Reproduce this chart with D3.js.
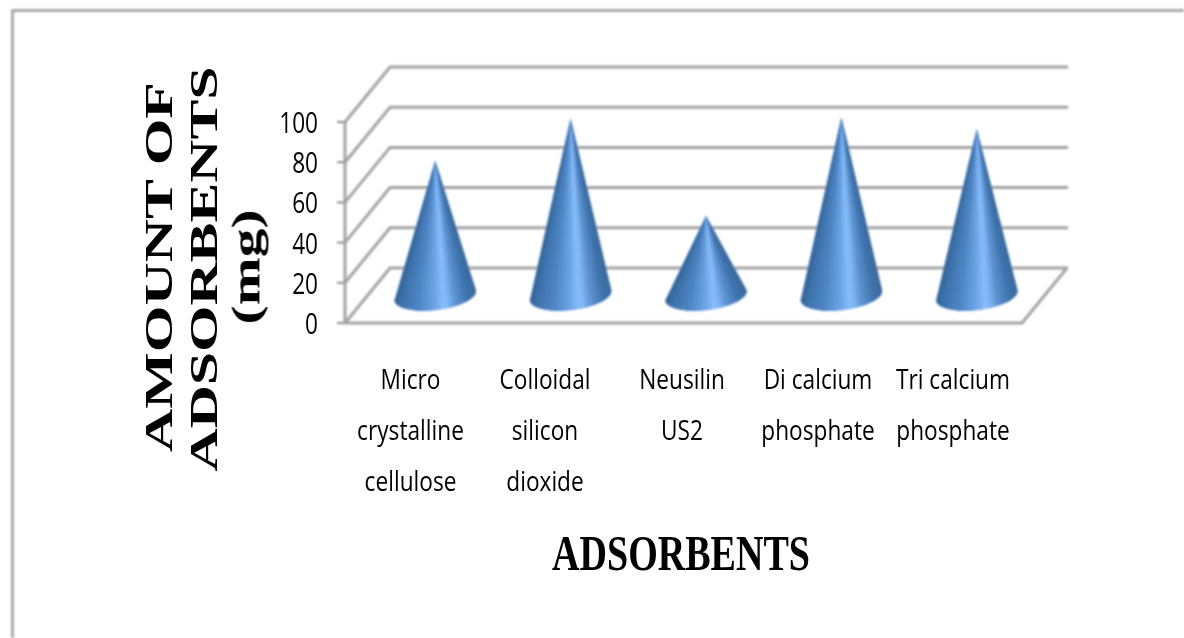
<!DOCTYPE html>
<html><head><meta charset="utf-8">
<style>html,body{margin:0;padding:0;background:#fff;overflow:hidden}</style>
<script src="https://d3js.org/d3.v7.min.js"></script></head>
<body><svg id="c" width="1184" height="638"></svg>
<script>
const categories = [["Micro","crystalline","cellulose"],["Colloidal","silicon","dioxide"],["Neusilin","US2"],["Di calcium","phosphate"],["Tri calcium","phosphate"]];
const values = [67, 88, 39.5, 88.6, 82.8];
const ticks = [0,20,40,60,80,100];
const yTitle = ["AMOUNT OF","ADSORBENTS","(mg)"];
const xTitle = "ADSORBENTS";

const svg = d3.select("#c");
const defs = svg.append("defs");
defs.append("filter").attr("id","soft").attr("x","-5%").attr("y","-5%").attr("width","110%").attr("height","110%")
  .append("feGaussianBlur").attr("stdDeviation",0.9);
defs.append("filter").attr("id","softText").attr("x","-5%").attr("y","-5%").attr("width","110%").attr("height","110%")
  .append("feGaussianBlur").attr("stdDeviation",0.5);
const g = svg.append("g").attr("filter","url(#soft)");
const tg = svg.append("g").attr("filter","url(#softText)");

const y = d3.scaleLinear().domain([0,100]).range([323,122]);
const x = d3.scaleBand().domain(d3.range(categories.length)).range([345,1022]);
const depth = {dx:45, dy:-55};

// frame
g.append("path").attr("d","M12.5,638V10.5H1184").attr("fill","none").attr("stroke","#9a9a9a").attr("stroke-width",2.4);

// gridlines, wall and floor
const gridCol = "#a2a2a2";
ticks.forEach(t=>{
  g.append("path")
   .attr("d",`M${x.range()[0]},${y(t)}L${x.range()[0]+depth.dx},${y(t)+depth.dy}H${x.range()[1]+depth.dx+1}`)
   .attr("fill","none").attr("stroke",gridCol).attr("stroke-width",3);
  g.append("line").attr("x1",x.range()[0]-8).attr("x2",x.range()[0]).attr("y1",y(t)).attr("y2",y(t))
   .attr("stroke","#8a8a8a").attr("stroke-width",2);
});
g.append("path").attr("d",`M${x.range()[0]},${y(100)}V${y(0)}H${x.range()[1]}L${x.range()[1]+depth.dx},${y(0)+depth.dy}`)
 .attr("fill","none").attr("stroke",gridCol).attr("stroke-width",3);

// cones: fan of wedges from tip to the skewed base ellipse
const shade = d3.scaleLinear()
  .domain([0,.1,.3,.5,.62,.75,.9,1])
  .range(["#33659b","#3f74ad","#4f87c6","#6ea6e6","#8cc0ff","#5d94d2","#3f74ad","#3a6a9e"]);
const rx=41, ry=14.5, rot=-7*Math.PI/180, slices=30;
values.forEach((v,i)=>{
  const cx = x(i)+x.bandwidth()/2+depth.dx/2;
  const cy = y(0)+depth.dy/2;
  const tipY = y(v)+depth.dy/2;
  const pts = d3.range(slices+1).map(k=>{
    const a = Math.PI - Math.PI*k/slices;
    const ex = rx*Math.cos(a), ey = ry*Math.sin(a);
    return [cx+ex*Math.cos(rot)-ey*Math.sin(rot), cy+ex*Math.sin(rot)+ey*Math.cos(rot)];
  });
  const cone = g.append("g");
  const outline = `M${cx},${tipY}L`+pts.map(p=>p.join(",")).join("L")+"Z";
  cone.append("path").attr("d",outline).attr("fill","#4f87c6");
  d3.range(slices).forEach(k=>{
    const xm = (pts[k][0]+pts[k+1][0])/2;
    const u = (xm-(cx-rx))/(2*rx);
    const next = pts[Math.min(k+2,slices)];
    cone.append("path")
      .attr("d",`M${cx},${tipY}L${pts[k][0]},${pts[k][1]}L${pts[k+1][0]},${pts[k+1][1]}L${next[0]},${next[1]}Z`)
      .attr("fill",shade(u));
  });
});

function fit(sel, target){
  const n = sel.node(); const w = n.getComputedTextLength();
  return target/w;
}
const sans = "'Open Sans','Noto Sans',sans-serif", serif = "'Liberation Serif',serif";

// y tick labels
ticks.forEach(t=>{
  tg.append("text").attr("transform",`translate(318,${y(t)+11}) scale(.78,1)`)
   .attr("text-anchor","end").attr("font-family",sans).attr("font-size",29).attr("fill","#000").text(t);
});

// category labels
const labelCx = [410.5,545,682,818,953];
const rowY = d3.scaleLinear().domain([0,2]).range([389,491]);
categories.forEach((lines,i)=>{
  lines.forEach((s,j)=>{
    tg.append("text").attr("transform",`translate(${labelCx[i]},${rowY(j)}) scale(.84,1)`)
     .attr("text-anchor","middle").attr("font-family",sans).attr("font-size",27).attr("fill","#000").text(s);
  });
});

// y title
const yTitleX = [172,217,259], yTitleW=[370,405,115], yTitleSize=[44,44,44], yTitleMid=[267,269,267];
yTitle.forEach((s,i)=>{
  const t = tg.append("text").attr("text-anchor","middle").attr("font-family",serif).attr("font-weight","bold")
    .attr("font-size",yTitleSize[i]).attr("fill","#000").text(s);
  t.attr("transform",`translate(${yTitleX[i]},${yTitleMid[i]}) rotate(-90) scale(${fit(t,yTitleW[i])},.9)`);
});

// x title
const xt = tg.append("text").attr("text-anchor","middle").attr("font-family",serif).attr("font-weight","bold")
  .attr("font-size",50).attr("fill","#000").text(xTitle);
xt.attr("transform",`translate(681,570) scale(${fit(xt,258)},1)`);
</script></body></html>
